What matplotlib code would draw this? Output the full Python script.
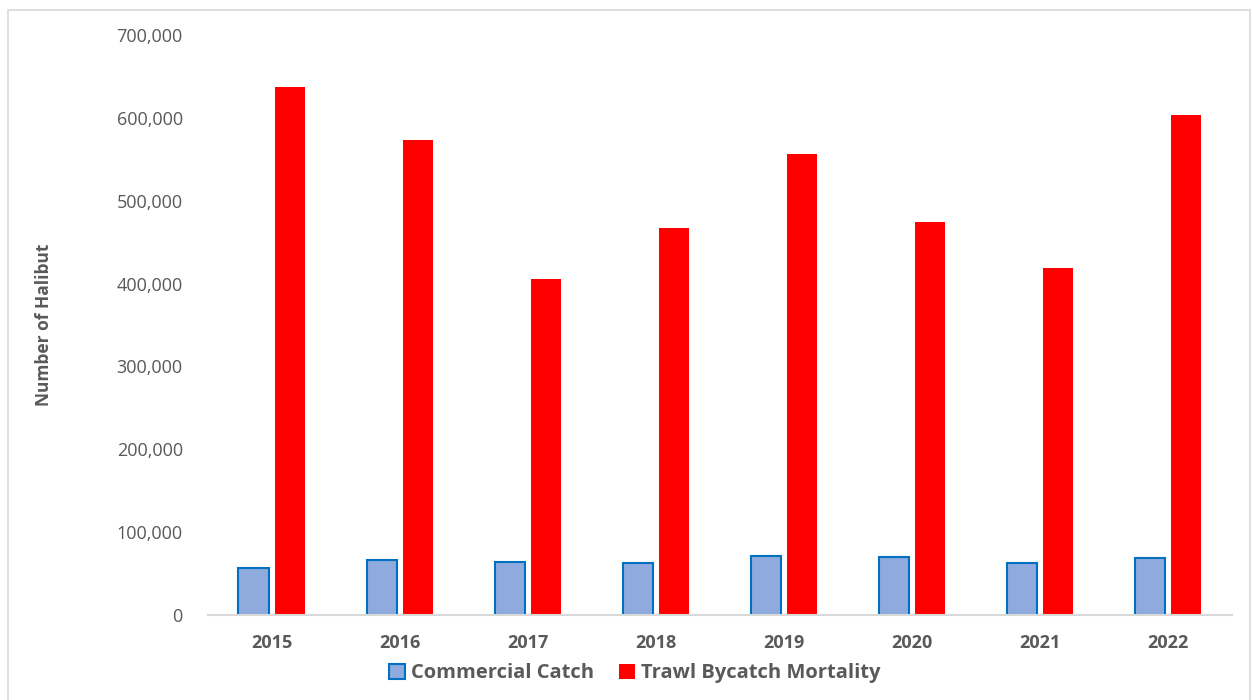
import numpy as np
import matplotlib.pyplot as plt
from matplotlib.ticker import FuncFormatter
from matplotlib.patches import Rectangle

years = ['2015', '2016', '2017', '2018', '2019', '2020', '2021', '2022']
commercial = [57000, 66000, 63500, 62500, 71500, 70500, 62500, 69000]
bycatch = [637000, 573000, 405000, 467000, 556000, 474000, 419000, 603000]

plt.rcParams['font.family'] = ['Open Sans', 'DejaVu Sans']
grey = '#595959'

fig = plt.figure(figsize=(12.52, 7), dpi=100)
ax = fig.add_axes([0.166, 0.1214, 0.818, 0.8286])

x = np.arange(len(years))
w = 0.235
ax.bar(x - 0.143, commercial, w, color='#8faadc', edgecolor='#0070c0', linewidth=1.5,
       label='Commercial Catch')
ax.bar(x + 0.143, bycatch, w, color='#ff0000', label='Trawl Bycatch Mortality')

ax.set_xlim(-0.5, len(years) - 0.5)
ax.set_ylim(0, 700000)
ax.set_yticks(range(0, 700001, 100000))
ax.yaxis.set_major_formatter(FuncFormatter(lambda v, p: '{:,.0f}'.format(v)))
ax.set_xticks(x)
ax.set_xticklabels(years, fontweight='bold')
ax.tick_params(axis='y', length=0, labelsize=13, colors=grey, pad=18)
ax.tick_params(axis='x', length=0, labelsize=13, colors=grey, pad=14)
for s in ['top', 'right', 'left']:
    ax.spines[s].set_visible(False)
ax.spines['bottom'].set_color('#d9d9d9')
ax.spines['bottom'].set_linewidth(1.5)

ax.set_ylabel('Number of Halibut', fontsize=12.5, fontweight='bold', color=grey, labelpad=46)

leg = fig.legend(loc='center', bbox_to_anchor=(0.507, 0.038), ncol=2, frameon=False,
                 prop={'size': 14.5, 'weight': 'bold'}, handlelength=0.8, handleheight=0.8,
                 columnspacing=1.2, handletextpad=0.3)
for t in leg.get_texts():
    t.set_color(grey)

fig.patches.append(Rectangle((0.0065, -0.01), 0.992, 0.996, transform=fig.transFigure,
                             fill=False, edgecolor='#d9d9d9', linewidth=1.2))

plt.savefig('out.png', dpi=100)
